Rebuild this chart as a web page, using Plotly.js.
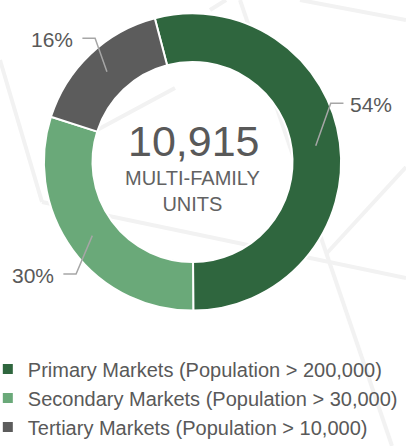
<!DOCTYPE html>
<html>
<head>
<meta charset="utf-8">
<script src="https://cdn.plot.ly/plotly-3.0.1.min.js"></script>
<style>
  html, body { margin: 0; padding: 0; background: #ffffff; }
  #chart { width: 406px; height: 446px; }
</style>
</head>
<body>
<div id="chart"></div>
<script>
// ---- data ----
const categories = [
  "Primary Markets (Population > 200,000)",
  "Secondary Markets (Population > 30,000)",
  "Tertiary Markets (Population > 10,000)"
];
const sharePercent = [54, 30, 16];
const totalUnits = 10915;
const centerCaption = ["MULTI-FAMILY", "UNITS"];

// ---- styles / layout constants ----
const sliceColors = ["#2f663e", "#6aa979", "#5c5c5c"];
const W = 406, H = 446;
const CX = 192.5, CY = 162, R = 148.6, HOLE = 0.673;
const ROTATION = -14.7;
// leader elbow placement relative to each slice's mid angle (deg, px radius)
const elbowAngleOffset = [-15.5, -7.6, 5.3];
const elbowRadius = [150.2, 161.6, 157.5];
const tailLength = 12.7;
const textGapRight = 5, textGapLeft = 7;
const FONT = "Liberation Sans, Arial, Helvetica, sans-serif";
const TEXT_COLOR = "#595959";

const px = x => x / W;
const py = y => 1 - y / H;
const polar = (deg, r) => {
  const a = deg * Math.PI / 180;
  return [CX + r * Math.sin(a), CY - r * Math.cos(a)];
};

const total = sharePercent.reduce((a, b) => a + b, 0);
const shapes = [];
const annotations = [];

// faint decorative background lines
const bgLines = [
  [[0, 60], [42, 202]],
  [[42, 202], [406, 278]],
  [[240, 0], [392, 446]],
  [[406, 167], [327, 253]],
  [[300, 0], [406, 20]],
  [[210, 10], [226, 0]],
  [[97, 130], [175, 88]]
];
bgLines.forEach(([a, b]) => {
  shapes.push({
    type: "line", xref: "paper", yref: "paper", layer: "below",
    x0: px(a[0]), y0: py(a[1]), x1: px(b[0]), y1: py(b[1]),
    line: { color: "#f2f2f2", width: 4 }
  });
});

// leader lines + percentage labels, derived from slice angles
let cum = 0;
sharePercent.forEach((v, i) => {
  const start = ROTATION + cum / total * 360;
  cum += v;
  const end = ROTATION + cum / total * 360;
  const mid = (start + end) / 2;
  const p0 = polar(mid, R * (1 + HOLE) / 2);
  const p1 = polar(mid + elbowAngleOffset[i], elbowRadius[i]);
  const right = p1[0] > CX;
  const p2 = [p1[0] + (right ? tailLength : -tailLength), p1[1]];
  shapes.push({
    type: "path", xref: "paper", yref: "paper", layer: "above",
    path: `M${px(p0[0])},${py(p0[1])} L${px(p1[0])},${py(p1[1])} L${px(p2[0])},${py(p2[1])}`,
    line: { color: "#a6a6a6", width: 1.5 }
  });
  annotations.push({
    xref: "paper", yref: "paper",
    x: px(p2[0] + (right ? textGapRight : -textGapLeft)), y: py(p2[1] + 1.5),
    xanchor: right ? "left" : "right", yanchor: "middle",
    text: Math.round(v / total * 100) + "%",
    showarrow: false,
    font: { family: FONT, size: 21, color: TEXT_COLOR }
  });
});

// centre text
annotations.push({
  xref: "paper", yref: "paper", x: px(CX + 1), y: py(141),
  xanchor: "center", yanchor: "middle", showarrow: false,
  text: totalUnits.toLocaleString("en-US"),
  font: { family: FONT, size: 43, color: TEXT_COLOR }
});
annotations.push({
  xref: "paper", yref: "paper", x: px(CX + 0), y: py(191),
  xanchor: "center", yanchor: "middle", showarrow: false,
  text: centerCaption.join("<br>"),
  font: { family: FONT, size: 20, color: "#626262" }
});

const trace = {
  type: "pie",
  labels: categories,
  values: sharePercent,
  sort: false,
  direction: "clockwise",
  rotation: ROTATION,
  hole: HOLE,
  textinfo: "none",
  hoverinfo: "label+percent",
  marker: { colors: sliceColors, line: { color: "#ffffff", width: 2 } },
  domain: { x: [px(CX - R), px(CX + R)], y: [py(CY + R), py(CY - R)] }
};

const layout = {
  width: W, height: H,
  margin: { l: 0, r: 0, t: 0, b: 0, pad: 0, autoexpand: false },
  paper_bgcolor: "#ffffff",
  plot_bgcolor: "#ffffff",
  showlegend: true,
  legend: {
    orientation: "v", x: -0.03, xanchor: "left", y: py(349.5), yanchor: "top",
    font: { family: FONT, size: 20, color: TEXT_COLOR },
    bgcolor: "rgba(0,0,0,0)", traceorder: "normal"
  },
  shapes: shapes,
  annotations: annotations
};

Plotly.newPlot("chart", [trace], layout, { displayModeBar: false, staticPlot: true });
</script>
</body>
</html>
